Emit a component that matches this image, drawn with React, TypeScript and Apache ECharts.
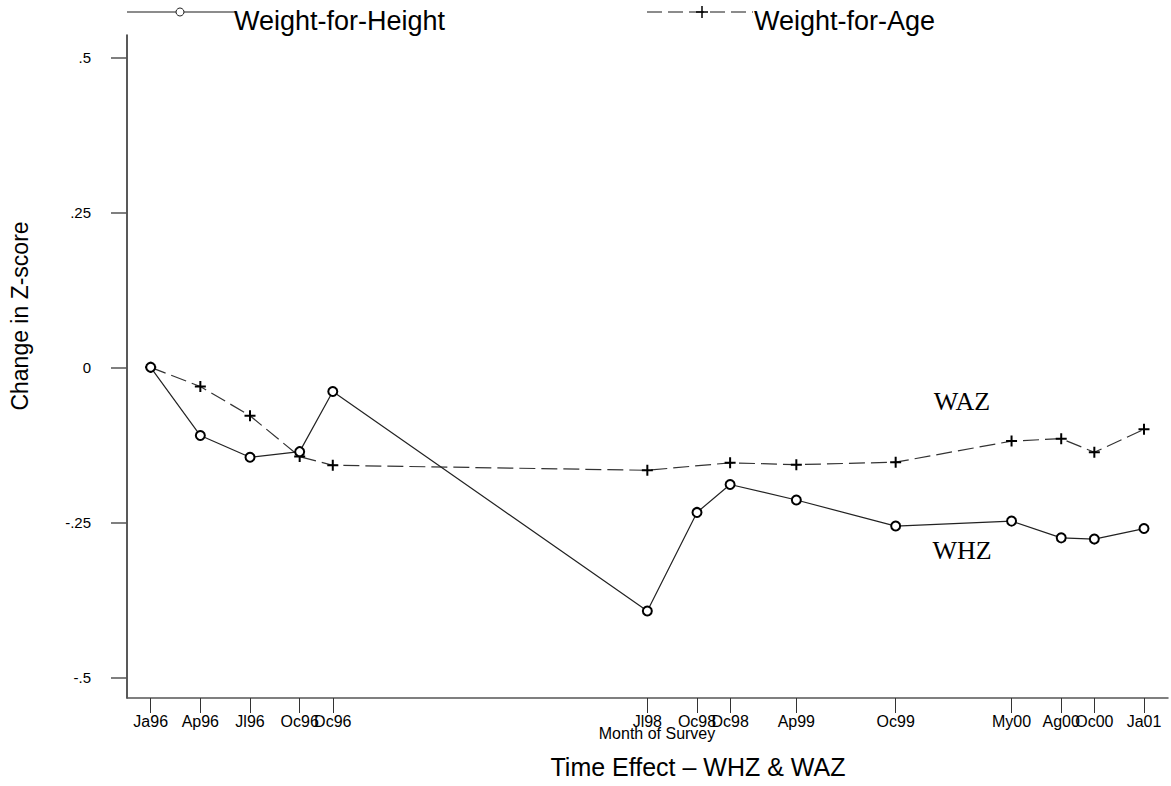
import React, { useEffect, useRef } from "react";
import * as echarts from "echarts";

// Months since January 1996 for each survey round
const surveyMonths = [0, 3, 6, 9, 11, 30, 33, 35, 39, 45, 52, 55, 57, 60];
const surveyLabels = ["Ja96", "Ap96", "Jl96", "Oc96", "Dc96", "Jl98", "Oc98", "Dc98", "Ap99", "Oc99", "My00", "Ag00", "Oc00", "Ja01"];

// Weight-for-Height (WHZ) change in z-score, all rounds
const whzValues = [0, -0.110, -0.145, -0.136, -0.039, -0.393, -0.234, -0.189, -0.214, -0.256, -0.248, -0.275, -0.277, -0.260];

// Weight-for-Age (WAZ) change in z-score (no Oc98 point)
const wazMonths = [0, 3, 6, 9, 11, 30, 35, 39, 45, 52, 55, 57, 60];
const wazValues = [0, -0.031, -0.078, -0.144, -0.158, -0.166, -0.154, -0.157, -0.153, -0.119, -0.115, -0.137, -0.100];

const yTicks = [-0.5, -0.25, 0, 0.25, 0.5];
const yTickLabels = ["-.5", "-.25", "0", ".25", ".5"];

const PLUS = "path://M6,0L6,12M0,6L12,6";

export default function App() {
  const ref = useRef<HTMLDivElement>(null);
  useEffect(() => {
    if (!ref.current) return;
    const chart = echarts.init(ref.current, undefined, { renderer: "svg" });
    const whzData = surveyMonths.map((m, i) => [m, whzValues[i]]);
    const wazData = wazMonths.map((m, i) => [m, wazValues[i]]);
    const sans = "'Liberation Sans', Arial, sans-serif";
    const serif = "'Liberation Serif', 'Times New Roman', serif";
    chart.setOption({
      animation: false,
      backgroundColor: "#fff",
      grid: { left: 127, right: 3, top: 35, bottom: 88, containLabel: false },
      xAxis: {
        type: "value",
        min: -1.43,
        max: 61.45,
        splitLine: { show: false },
        axisLine: { show: true, onZero: false, lineStyle: { color: "#555", width: 1.5 } },
        axisTick: { show: true, length: 15, customValues: surveyMonths, lineStyle: { color: "#333", width: 1 } },
        axisLabel: {
          customValues: surveyMonths,
          margin: 15,
          fontSize: 16,
          fontFamily: sans,
          color: "#000",
          formatter: (v: number) => {
            const i = surveyMonths.indexOf(Math.round(v));
            return i >= 0 ? surveyLabels[i] : "";
          },
        },
      },
      yAxis: {
        type: "value",
        min: -0.5333,
        max: 0.536,
        splitLine: { show: false },
        axisLine: { show: true, onZero: false, lineStyle: { color: "#222", width: 1.5 } },
        axisTick: { show: true, length: 16, customValues: yTicks, lineStyle: { color: "#555", width: 1.5 } },
        axisLabel: {
          customValues: yTicks,
          margin: 36,
          fontSize: 15,
          fontFamily: sans,
          color: "#000",
          formatter: (v: number) => {
            const i = yTicks.findIndex((t) => Math.abs(t - v) < 1e-6);
            return i >= 0 ? yTickLabels[i] : "";
          },
        },
      },
      series: [
        {
          name: "Weight-for-Height",
          type: "line",
          data: whzData,
          symbol: "emptyCircle",
          symbolSize: 9,
          showSymbol: true,
          lineStyle: { color: "#222", width: 1.2, type: "solid" },
          itemStyle: { color: "#000", borderColor: "#000", borderWidth: 2.2 },
          z: 3,
        },
        {
          name: "Weight-for-Age",
          type: "line",
          data: wazData,
          symbol: PLUS,
          symbolSize: 11,
          showSymbol: true,
          lineStyle: { color: "#333", width: 1.2, type: [16, 6] },
          itemStyle: { color: "#000", borderColor: "#000", borderWidth: 2 },
          z: 2,
        },
      ],
      graphic: [
        // legend 1
        { type: "line", shape: { x1: 127, y1: 12, x2: 235, y2: 12 }, style: { stroke: "#666", lineWidth: 1.5 } },
        { type: "circle", shape: { cx: 180, cy: 12, r: 4 }, style: { fill: "#fff", stroke: "#222", lineWidth: 1 } },
        { type: "text", x: 234, y: 21, style: { text: "Weight-for-Height", fontSize: 27, fontFamily: sans, fill: "#000", align: "left", verticalAlign: "middle" } },
        // legend 2
        { type: "line", shape: { x1: 647, y1: 12, x2: 753, y2: 12 }, style: { stroke: "#666", lineWidth: 1.5, lineDash: [15, 6] } },
        { type: "line", shape: { x1: 702, y1: 6, x2: 702, y2: 18 }, style: { stroke: "#000", lineWidth: 1.5 } },
        { type: "line", shape: { x1: 696, y1: 12, x2: 708, y2: 12 }, style: { stroke: "#000", lineWidth: 1.5 } },
        { type: "text", x: 754, y: 21, style: { text: "Weight-for-Age", fontSize: 27, fontFamily: sans, fill: "#000", align: "left", verticalAlign: "middle" } },
        // y-axis title
        { type: "text", x: 20, y: 316, rotation: Math.PI / 2, style: { text: "Change in Z-score", fontSize: 23, fontFamily: sans, fill: "#000", align: "center", verticalAlign: "middle" } },
        // annotations
        { type: "text", x: 962, y: 401, style: { text: "WAZ", fontSize: 26, fontFamily: serif, fill: "#000", align: "center", verticalAlign: "middle" } },
        { type: "text", x: 962, y: 550, style: { text: "WHZ", fontSize: 26, fontFamily: serif, fill: "#000", align: "center", verticalAlign: "middle" } },
        // axis titles
        { type: "text", x: 657, y: 733, style: { text: "Month of Survey", fontSize: 16, fontFamily: sans, fill: "#000", align: "center", verticalAlign: "middle" } },
        { type: "text", x: 698, y: 767, style: { text: "Time Effect \u2013 WHZ & WAZ", fontSize: 25, fontFamily: sans, fill: "#000", align: "center", verticalAlign: "middle" } },
      ],
    });
    return () => chart.dispose();
  }, []);
  return <div ref={ref} style={{ position: "absolute", left: 0, top: 0, width: 1171, height: 786 }} />;
}
